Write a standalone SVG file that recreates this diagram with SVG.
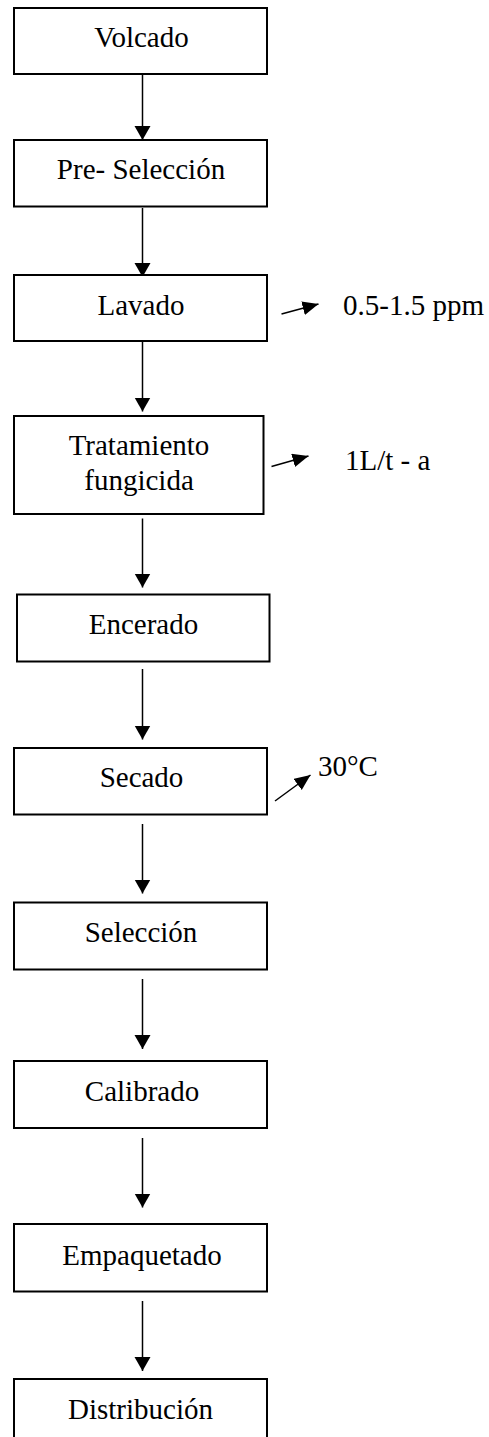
<svg xmlns="http://www.w3.org/2000/svg" width="489" height="1437" viewBox="0 0 489 1437">
<style>
.box{fill:#fff;stroke:#000;stroke-width:2}
.t{font-family:"Liberation Serif","Times New Roman",Times,serif;font-size:29px;fill:#000}
.c{text-anchor:middle}
.ln{stroke:#000;stroke-width:1.5;fill:none}
</style>
<defs>
<marker id="ah" markerUnits="userSpaceOnUse" markerWidth="16" markerHeight="18" refX="14" refY="8" orient="auto">
<path d="M0,0 L14,8 L0,16 Z" fill="#000"/>
</marker>
<marker id="as" markerUnits="userSpaceOnUse" markerWidth="18" markerHeight="16" refX="16" refY="7" orient="auto">
<path d="M0,0 L16,7 L0,14 Z" fill="#000"/>
</marker>
</defs>
<rect width="489" height="1437" fill="#fff"/>
<g id="connectors">
<line class="ln" x1="142.5" y1="74" x2="142.5" y2="140" marker-end="url(#ah)"/>
<line class="ln" x1="142.5" y1="208" x2="142.5" y2="277" marker-end="url(#ah)"/>
<line class="ln" x1="142.5" y1="341" x2="142.5" y2="411.5" marker-end="url(#ah)"/>
<line class="ln" x1="142.5" y1="518.5" x2="142.5" y2="587.5" marker-end="url(#ah)"/>
<line class="ln" x1="142.5" y1="669" x2="142.5" y2="739.5" marker-end="url(#ah)"/>
<line class="ln" x1="142.5" y1="824" x2="142.5" y2="893.5" marker-end="url(#ah)"/>
<line class="ln" x1="142.5" y1="979" x2="142.5" y2="1049" marker-end="url(#ah)"/>
<line class="ln" x1="142.5" y1="1138" x2="142.5" y2="1207.5" marker-end="url(#ah)"/>
<line class="ln" x1="142.5" y1="1301" x2="142.5" y2="1371" marker-end="url(#ah)"/>
<line class="ln" x1="281.5" y1="314" x2="318.5" y2="304" marker-end="url(#as)"/>
<line class="ln" x1="271.5" y1="466.5" x2="308.5" y2="456" marker-end="url(#as)"/>
<line class="ln" x1="275" y1="801" x2="310.5" y2="775" marker-end="url(#as)"/>
</g>
<g id="n1"><rect class="box" x="14" y="8" width="253" height="66"/><text class="t c" x="141.5" y="47">Volcado</text></g>
<g id="n2"><rect class="box" x="14" y="140" width="253" height="66.5"/><text class="t c" x="141" y="179">Pre- Selección</text></g>
<g id="n3"><rect class="box" x="14" y="275" width="253" height="66"/><text class="t c" x="141" y="315">Lavado</text></g>
<g id="n4"><rect class="box" x="14" y="416" width="249.5" height="98"/><text class="t c" x="139" y="455">Tratamiento</text><text class="t c" x="139" y="490">fungicida</text></g>
<g id="n5"><rect class="box" x="17" y="594.5" width="252.5" height="67"/><text class="t c" x="143.5" y="634">Encerado</text></g>
<g id="n6"><rect class="box" x="14" y="748" width="253" height="66.5"/><text class="t c" x="141.5" y="787">Secado</text></g>
<g id="n7"><rect class="box" x="14" y="902.5" width="253" height="67"/><text class="t c" x="141" y="942">Selección</text></g>
<g id="n8"><rect class="box" x="14" y="1061" width="253" height="67"/><text class="t c" x="142" y="1101">Calibrado</text></g>
<g id="n9"><rect class="box" x="14" y="1224" width="253" height="67.5"/><text class="t c" x="142" y="1265">Empaquetado</text></g>
<g id="n10"><rect class="box" x="14" y="1379" width="253" height="80"/><text class="t c" x="140.5" y="1419">Distribución</text></g>
<g id="labels">
<text class="t" x="343" y="315">0.5-1.5 ppm</text>
<text class="t" x="345" y="470">1L/t - a</text>
<text class="t" x="318" y="776">30°C</text>
</g>
</svg>
